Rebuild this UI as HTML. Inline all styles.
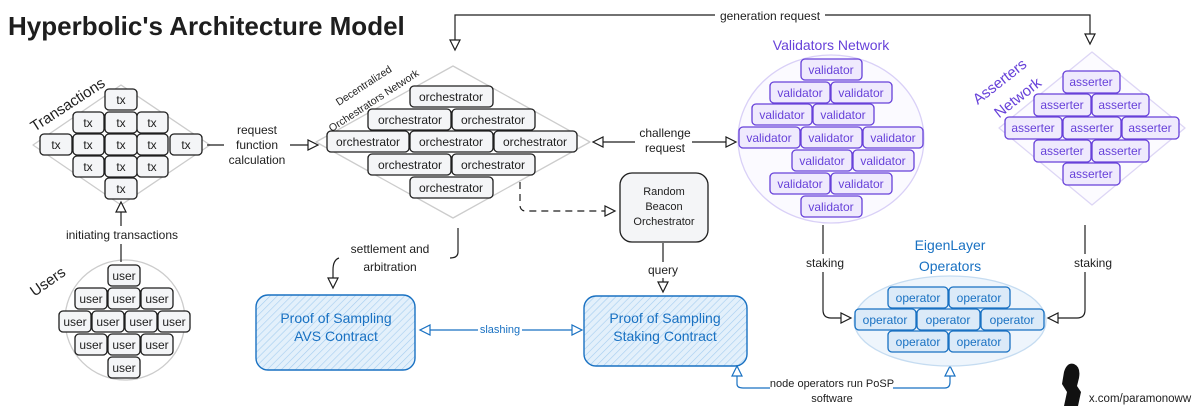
<!DOCTYPE html>
<html><head><meta charset="utf-8"><style>
body{margin:0;background:#fff}
svg{display:block}
text{font-family:"Liberation Sans",sans-serif;font-size:12px;fill:#1e1e1e;text-anchor:middle;dominant-baseline:central}
.c{fill:#f4f5f7;stroke:#1e1e1e;stroke-width:1.3}
.v{fill:#efeafd;stroke:#6741d9;stroke-width:1.3}
.vt{fill:#6741d9}
.o{fill:#dbeaf8;stroke:#1971c2;stroke-width:1.3}
.ot{fill:#1971c2}
.ln{fill:none;stroke:#1e1e1e;stroke-width:1.2}
.ah{fill:#fff;stroke:#1e1e1e;stroke-width:1.2}
</style></head><body>
<svg width="1200" height="414" viewBox="0 0 1200 414">
<defs>
<pattern id="h" width="5" height="5" patternUnits="userSpaceOnUse" patternTransform="rotate(45)"><rect width="5" height="5" fill="#e3f0fb"/><line x1="0" y1="0" x2="0" y2="5" stroke="#a5cdf0" stroke-width="1.2"/></pattern>
</defs>
<text x="8" y="26" style="font-size:26px;text-anchor:start;font-weight:bold">Hyperbolic's Architecture Model</text>

<!-- generation request -->
<path class="ln" d="M455 48 V15 H1090 V40"/>
<path class="ah" d="M450 40 L460 40 L455 50 Z"/><path class="ah" d="M1085 34 L1095 34 L1090 44 Z"/>
<rect x="715" y="9" width="110" height="14" fill="#fff"/>
<text x="770" y="16">generation request</text>

<!-- Transactions -->
<path d="M121 85 L210 145 L121 205 L33 145 Z" fill="none" stroke="#ccc" stroke-width="1.3" stroke-linejoin="round"/>
<text x="68" y="105" transform="rotate(-33 68 105)" style="font-size:15px">Transactions</text>
<g>
<rect class="c" x="105" y="89" width="32" height="21" rx="4"/><text x="121" y="100">tx</text>
<rect class="c" x="73" y="112" width="31" height="21" rx="4"/><text x="88" y="123">tx</text>
<rect class="c" x="105" y="112" width="32" height="21" rx="4"/><text x="121" y="123">tx</text>
<rect class="c" x="137" y="112" width="31" height="21" rx="4"/><text x="152" y="123">tx</text>
<rect class="c" x="40" y="134" width="32" height="21" rx="4"/><text x="56" y="145">tx</text>
<rect class="c" x="73" y="134" width="31" height="21" rx="4"/><text x="88" y="145">tx</text>
<rect class="c" x="105" y="134" width="32" height="21" rx="4"/><text x="121" y="145">tx</text>
<rect class="c" x="137" y="134" width="31" height="21" rx="4"/><text x="152" y="145">tx</text>
<rect class="c" x="170" y="134" width="32" height="21" rx="4"/><text x="186" y="145">tx</text>
<rect class="c" x="73" y="156" width="31" height="21" rx="4"/><text x="88" y="167">tx</text>
<rect class="c" x="105" y="156" width="32" height="21" rx="4"/><text x="121" y="167">tx</text>
<rect class="c" x="137" y="156" width="31" height="21" rx="4"/><text x="152" y="167">tx</text>
<rect class="c" x="105" y="178" width="32" height="21" rx="4"/><text x="121" y="189">tx</text>
</g>

<!-- Users -->
<circle cx="125" cy="320" r="60" fill="none" stroke="#ccc" stroke-width="1.3"/>
<text x="48" y="282" transform="rotate(-35 48 282)" style="font-size:15px">Users</text>
<rect class="c" x="108" y="265" width="32" height="21" rx="4"/><text x="124" y="276">user</text>
<rect class="c" x="75" y="288" width="32" height="21" rx="4"/><text x="91" y="299">user</text>
<rect class="c" x="108" y="288" width="32" height="21" rx="4"/><text x="124" y="299">user</text>
<rect class="c" x="141" y="288" width="32" height="21" rx="4"/><text x="157" y="299">user</text>
<rect class="c" x="59" y="311" width="32" height="21" rx="4"/><text x="75" y="322">user</text>
<rect class="c" x="92" y="311" width="32" height="21" rx="4"/><text x="108" y="322">user</text>
<rect class="c" x="125" y="311" width="32" height="21" rx="4"/><text x="141" y="322">user</text>
<rect class="c" x="158" y="311" width="32" height="21" rx="4"/><text x="174" y="322">user</text>
<rect class="c" x="75" y="334" width="32" height="21" rx="4"/><text x="91" y="345">user</text>
<rect class="c" x="108" y="334" width="32" height="21" rx="4"/><text x="124" y="345">user</text>
<rect class="c" x="141" y="334" width="32" height="21" rx="4"/><text x="157" y="345">user</text>
<rect class="c" x="108" y="357" width="32" height="21" rx="4"/><text x="124" y="368">user</text>

<path class="ln" d="M121 262 V244 M121 226 V212"/>
<path class="ah" d="M116 212 L126 212 L121 202 Z"/>
<text x="122" y="235">initiating transactions</text>

<!-- request function calculation -->
<path class="ln" d="M207 145 H224 M290 145 H308"/>
<path class="ah" d="M308 140 L308 150 L318 145 Z"/>
<text x="257" y="130">request</text><text x="257" y="145">function</text><text x="257" y="160">calculation</text>

<!-- Orchestrators -->
<path d="M453 66 L590 142 L453 218 L316 142 Z" fill="none" stroke="#ccc" stroke-width="1.3" stroke-linejoin="round"/>
<text x="364" y="86" transform="rotate(-33 364 86)" style="font-size:10.5px">Decentralized</text>
<text x="374" y="101" transform="rotate(-33 374 101)" style="font-size:10.5px">Orchestrators Network</text>
<rect class="c" x="410" y="86" width="83" height="21" rx="4"/><text x="451" y="97">orchestrator</text>
<rect class="c" x="368" y="109" width="83" height="21" rx="4"/><text x="410" y="120">orchestrator</text>
<rect class="c" x="452" y="109" width="83" height="21" rx="4"/><text x="493" y="120">orchestrator</text>
<rect class="c" x="327" y="131" width="82" height="21" rx="4"/><text x="368" y="142">orchestrator</text>
<rect class="c" x="410" y="131" width="83" height="21" rx="4"/><text x="451" y="142">orchestrator</text>
<rect class="c" x="494" y="131" width="83" height="21" rx="4"/><text x="535" y="142">orchestrator</text>
<rect class="c" x="368" y="154" width="83" height="21" rx="4"/><text x="410" y="165">orchestrator</text>
<rect class="c" x="452" y="154" width="83" height="21" rx="4"/><text x="493" y="165">orchestrator</text>
<rect class="c" x="410" y="177" width="83" height="21" rx="4"/><text x="451" y="188">orchestrator</text>

<!-- challenge request -->
<path class="ln" d="M603 142 H635 M692 142 H726"/>
<path class="ah" d="M603 137 L603 147 L593 142 Z"/><path class="ah" d="M726 137 L726 147 L736 142 Z"/>
<text x="665" y="133">challenge</text><text x="665" y="148">request</text>

<!-- random beacon -->
<rect x="620" y="173" width="88" height="69" rx="12" fill="#f4f5f7" stroke="#1e1e1e" stroke-width="1.3"/>
<text x="664" y="192" style="font-size:11px">Random</text><text x="664" y="207" style="font-size:11px">Beacon</text><text x="664" y="222" style="font-size:11px">Orchestrator</text>
<path class="ln" stroke-dasharray="7 5" d="M520 182 V205 Q520 211 526 211 H605"/>
<path class="ah" d="M605 206 L605 216 L615 211 Z"/>

<!-- settlement -->
<path class="ln" d="M458 228 V252 Q458 258 450 258 M339 258 Q333 260 333 270 V278"/>
<path class="ah" d="M328 278 L338 278 L333 288 Z"/>
<text x="390" y="249">settlement and</text><text x="390" y="267">arbitration</text>

<!-- query -->
<path class="ln" d="M663 243 V262 M663 278 V282"/>
<path class="ah" d="M658 282 L668 282 L663 292 Z"/>
<text x="663" y="270">query</text>

<!-- contracts -->
<rect x="256" y="295" width="159" height="75" rx="12" fill="url(#h)" stroke="#1971c2" stroke-width="1.4"/>
<text class="ot" x="336" y="318" style="font-size:14px">Proof of Sampling</text><text class="ot" x="336" y="336" style="font-size:14px">AVS Contract</text>
<rect x="584" y="296" width="163" height="70" rx="12" fill="url(#h)" stroke="#1971c2" stroke-width="1.4"/>
<text class="ot" x="665" y="318" style="font-size:14px">Proof of Sampling</text><text class="ot" x="665" y="336" style="font-size:14px">Staking Contract</text>
<path d="M430 330 H478 M522 330 H572" fill="none" stroke="#1971c2" stroke-width="1.2"/>
<path class="ah" d="M430 325 L430 335 L420 330 Z" style="stroke:#1971c2"/><path class="ah" d="M572 325 L572 335 L582 330 Z" style="stroke:#1971c2"/>
<text class="ot" x="500" y="330" style="font-size:11px">slashing</text>

<!-- node operators -->
<path class="ln" style="stroke:#1971c2" d="M737 376 V384 Q737 388 743 388 H770 M893 388 H945 Q950 388 950 382 V376"/>
<path class="ah" style="stroke:#1971c2" d="M732 376 L742 376 L737 366 Z"/><path class="ah" style="stroke:#1971c2" d="M945 376 L955 376 L950 366 Z"/>
<text x="832" y="384" style="font-size:11px">node operators run PoSP</text><text x="832" y="399" style="font-size:11px">software</text>

<!-- validators -->
<text class="vt" x="831" y="45" style="font-size:14px">Validators Network</text>
<ellipse cx="831" cy="139" rx="93" ry="84" fill="#fbfaff" stroke="#d9d0f7" stroke-width="1.3"/>
<g style="font-size:11.5px">
<rect class="v" x="801" y="59" width="61" height="21" rx="4"/><text class="vt" x="831" y="70">validator</text>
<rect class="v" x="770" y="82" width="60" height="21" rx="4"/><text class="vt" x="800" y="93">validator</text>
<rect class="v" x="831" y="82" width="61" height="21" rx="4"/><text class="vt" x="861" y="93">validator</text>
<rect class="v" x="752" y="104" width="60" height="21" rx="4"/><text class="vt" x="782" y="115">validator</text>
<rect class="v" x="813" y="104" width="61" height="21" rx="4"/><text class="vt" x="843" y="115">validator</text>
<rect class="v" x="739" y="127" width="61" height="21" rx="4"/><text class="vt" x="769" y="138">validator</text>
<rect class="v" x="801" y="127" width="61" height="21" rx="4"/><text class="vt" x="831" y="138">validator</text>
<rect class="v" x="863" y="127" width="60" height="21" rx="4"/><text class="vt" x="893" y="138">validator</text>
<rect class="v" x="792" y="150" width="60" height="21" rx="4"/><text class="vt" x="822" y="161">validator</text>
<rect class="v" x="853" y="150" width="61" height="21" rx="4"/><text class="vt" x="883" y="161">validator</text>
<rect class="v" x="770" y="173" width="60" height="21" rx="4"/><text class="vt" x="800" y="184">validator</text>
<rect class="v" x="831" y="173" width="61" height="21" rx="4"/><text class="vt" x="861" y="184">validator</text>
<rect class="v" x="801" y="196" width="61" height="21" rx="4"/><text class="vt" x="831" y="207">validator</text>
</g>

<!-- asserters -->
<path d="M1092 52 L1185 128 L1092 205 L999 128 Z" fill="#fcfbff" stroke="#ddd6f5" stroke-width="1.3" stroke-linejoin="round"/>
<text class="vt" x="1000" y="82" transform="rotate(-38 1000 82)" style="font-size:15px">Asserters</text>
<text class="vt" x="1018" y="98" transform="rotate(-38 1018 98)" style="font-size:15px">Network</text>
<rect class="v" x="1063" y="71" width="57" height="22" rx="4"/><text class="vt" x="1091" y="82">asserter</text>
<rect class="v" x="1034" y="94" width="57" height="22" rx="4"/><text class="vt" x="1062" y="105">asserter</text>
<rect class="v" x="1092" y="94" width="57" height="22" rx="4"/><text class="vt" x="1120" y="105">asserter</text>
<rect class="v" x="1005" y="117" width="57" height="22" rx="4"/><text class="vt" x="1033" y="128">asserter</text>
<rect class="v" x="1063" y="117" width="58" height="22" rx="4"/><text class="vt" x="1092" y="128">asserter</text>
<rect class="v" x="1122" y="117" width="57" height="22" rx="4"/><text class="vt" x="1150" y="128">asserter</text>
<rect class="v" x="1034" y="140" width="57" height="22" rx="4"/><text class="vt" x="1062" y="151">asserter</text>
<rect class="v" x="1092" y="140" width="57" height="22" rx="4"/><text class="vt" x="1120" y="151">asserter</text>
<rect class="v" x="1063" y="163" width="57" height="22" rx="4"/><text class="vt" x="1091" y="174">asserter</text>

<!-- staking -->
<path class="ln" d="M823 225 V254 M823 272 V310 Q823 318 831 318 H841"/>
<path class="ah" d="M841 313 L841 323 L851 318 Z"/>
<text x="825" y="263">staking</text>
<path class="ln" d="M1085 225 V254 M1085 272 V310 Q1085 318 1077 318 H1058"/>
<path class="ah" d="M1058 313 L1058 323 L1048 318 Z"/>
<text x="1093" y="263">staking</text>

<!-- eigenlayer -->
<ellipse cx="950" cy="321" rx="96" ry="45" fill="#eef5fc" stroke="#c5dcf1" stroke-width="1.3"/>
<text class="ot" x="950" y="245" style="font-size:14px">EigenLayer</text>
<text class="ot" x="950" y="266" style="font-size:14px">Operators</text>
<g style="font-size:11.5px">
<rect class="o" x="888" y="287" width="60" height="21" rx="4"/><text class="ot" x="918" y="298">operator</text>
<rect class="o" x="949" y="287" width="61" height="21" rx="4"/><text class="ot" x="979" y="298">operator</text>
<rect class="o" x="855" y="309" width="61" height="21" rx="4"/><text class="ot" x="885" y="320">operator</text>
<rect class="o" x="917" y="309" width="63" height="21" rx="4"/><text class="ot" x="948" y="320">operator</text>
<rect class="o" x="981" y="309" width="63" height="21" rx="4"/><text class="ot" x="1012" y="320">operator</text>
<rect class="o" x="888" y="331" width="60" height="21" rx="4"/><text class="ot" x="918" y="342">operator</text>
<rect class="o" x="949" y="331" width="61" height="21" rx="4"/><text class="ot" x="979" y="342">operator</text>
</g>

<!-- signature -->
<path d="M1064 372 Q1067 362 1074 364 Q1081 367 1079 378 L1077 386 L1081 392 L1078 406 L1064 406 L1067 392 L1062 384 Z" fill="#111"/>
<text x="1140" y="399" style="font-size:11.5px">x.com/paramonoww</text>
</svg>
</body></html>
